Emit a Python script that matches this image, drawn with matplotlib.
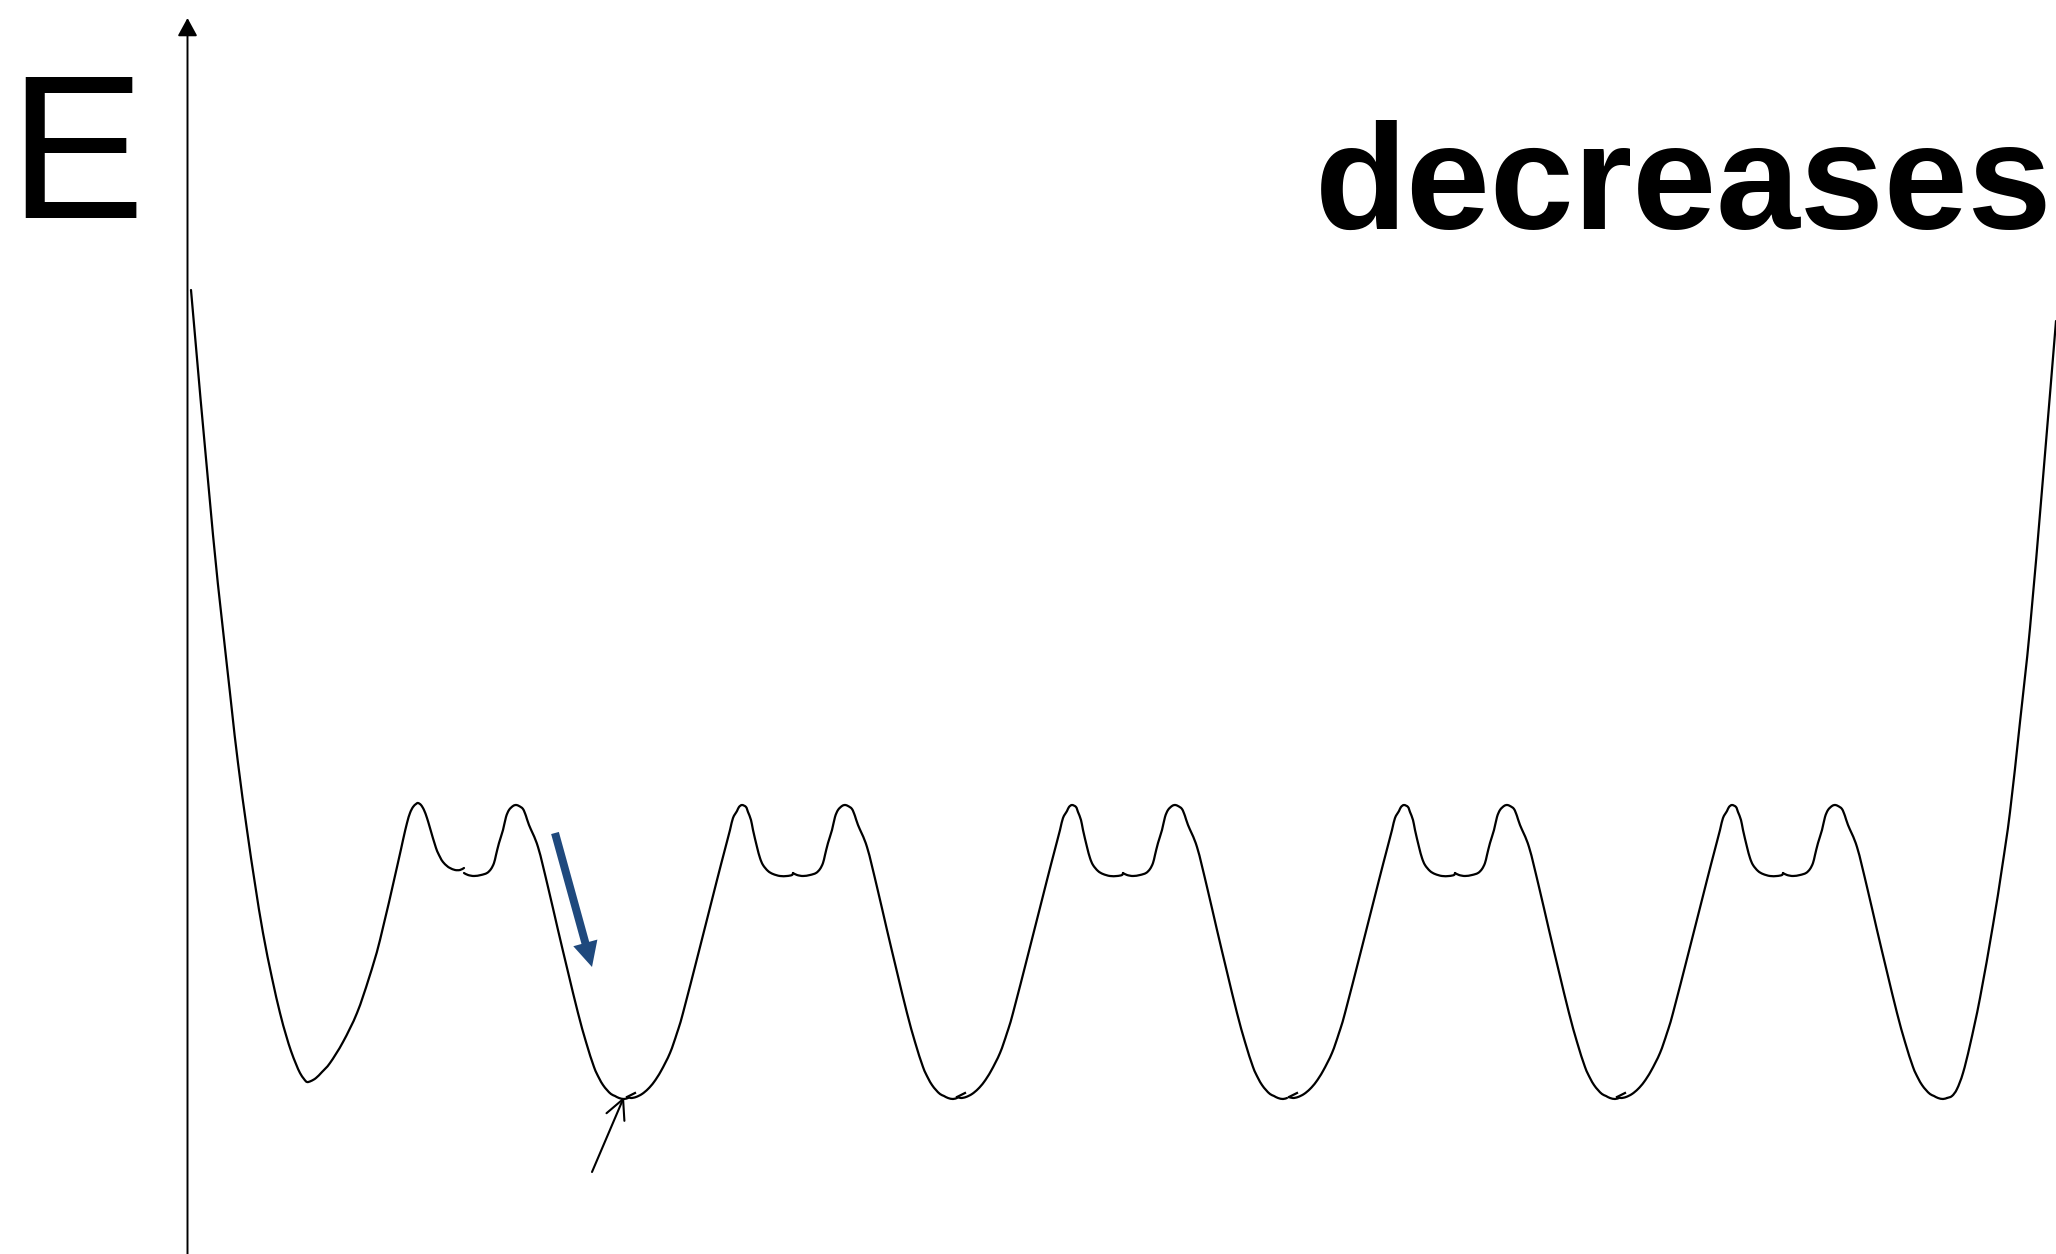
import matplotlib.pyplot as plt
from matplotlib.path import Path
from matplotlib.patches import PathPatch

# energy curve (x = position px, y = screen px, down = lower E)
left_wall_x = [191, 213, 230, 238, 247, 255, 263, 272, 280, 286, 291, 296, 300, 304, 307, 311, 316, 322, 330, 343, 357, 369, 380, 397, 403, 407, 410, 413, 416, 418, 421, 424, 427, 430, 436, 440, 443, 447, 450, 455, 460, 464]
left_wall_y = [290, 535, 693, 763, 830, 884, 933, 978, 1013, 1035, 1051, 1064, 1073, 1079, 1082, 1081, 1078, 1072, 1063, 1042, 1013, 978, 940, 867, 840, 823, 813, 807, 804, 803, 805, 810, 818, 828, 848, 857, 862, 866, 868, 870, 870, 868]

barrier_x = [464, 793, 1123, 1455, 1783]

# half of a barrier going up from a well bottom to the dip in the middle
rise_dx = [-166, -162, -157, -151, -145, -139, -132, -123, -116, -110, -93, -76, -69, -63, -60, -56, -54, -51, -47, -45, -42, -40, -36, -33, -30, -25, -20, -13, -6, -1, 0]
rise_y = [1097, 1098, 1097, 1094, 1089, 1082, 1071, 1053, 1033, 1013, 947, 880, 853, 830, 818, 811, 807, 805, 807, 812, 820, 830, 847, 858, 865, 871, 874, 876, 876, 875, 873]
# little tick where the pieces join at the well bottom
hook_dx = [-158, -166]
hook_y = [1093, 1097]
# other half, from the dip down to the next well
fall_dx = [0, 4, 10, 17, 23, 27, 30, 32, 35, 39, 42, 45, 49, 52, 55, 59, 62, 65, 74, 84, 94, 104, 114, 122, 130, 135, 139, 143, 147, 151, 155, 160, 164]
fall_y = [873, 875, 876, 875, 873, 869, 863, 855, 843, 830, 817, 810, 806, 805, 806, 809, 816, 825, 847, 887, 930, 972, 1013, 1042, 1067, 1078, 1085, 1090, 1094, 1096, 1098, 1099, 1098]

right_wall_x = [1947, 1952, 1957, 1963, 1970, 1980, 1993, 2002, 2010, 2020, 2030, 2043, 2056]
right_wall_y = [1098, 1096, 1089, 1073, 1045, 998, 925, 868, 812, 722, 628, 478, 321]


def smooth_line(ax, xs, ys, **kw):
    # draw through the points with catmull-rom style bezier segments
    pts = list(zip(xs, ys))
    n = len(pts)
    verts = [pts[0]]
    codes = [Path.MOVETO]
    for i in range(n - 1):
        p0 = pts[max(i - 1, 0)]
        p1 = pts[i]
        p2 = pts[i + 1]
        p3 = pts[min(i + 2, n - 1)]
        c1 = (p1[0] + (p2[0] - p0[0]) / 6, p1[1] + (p2[1] - p0[1]) / 6)
        c2 = (p2[0] - (p3[0] - p1[0]) / 6, p2[1] - (p3[1] - p1[1]) / 6)
        verts += [c1, c2, p2]
        codes += [Path.CURVE4] * 3
    ax.add_patch(PathPatch(Path(verts, codes), fill=False, **kw))


fig = plt.figure(figsize=(20.56, 12.54), dpi=100)
ax = fig.add_axes([0, 0, 1, 1])
ax.set_xlim(0, 2056)
ax.set_ylim(1254, 0)
ax.axis('off')

style = dict(edgecolor='k', lw=1.6, joinstyle='round', capstyle='round')
smooth_line(ax, left_wall_x, left_wall_y, **style)
for i, c in enumerate(barrier_x):
    if i > 0:
        smooth_line(ax, [c + d for d in rise_dx], rise_y, **style)
        ax.plot([c + d for d in hook_dx], hook_y, color='k', lw=1.6)
    smooth_line(ax, [c + d for d in fall_dx], fall_y, **style)
smooth_line(ax, right_wall_x, right_wall_y, **style)

# E axis
ax.annotate('', xy=(187.5, 18), xytext=(187.5, 1254),
            arrowprops=dict(arrowstyle='-|>,head_length=0.55,head_width=0.3',
                            mutation_scale=20, lw=1.4, color='k',
                            shrinkA=0, shrinkB=0))

# thin arrow pointing at the well bottom
ax.annotate('', xy=(624, 1097), xytext=(592, 1172),
            arrowprops=dict(arrowstyle='->,head_length=1.0,head_width=0.5',
                            mutation_scale=14, lw=1.5, color='k',
                            shrinkA=0, shrinkB=0))

# blue arrow down the slope
ax.arrow(555, 833, 37, 134, width=8, head_width=25, head_length=25,
         length_includes_head=True, color='#1F497D', lw=0)

ax.text(8, 218, 'E', fontsize=147, family='Liberation Sans',
        ha='left', va='baseline')
ax.text(2052, 229, 'decreases', fontsize=108.5, family='Liberation Sans',
        weight='bold', ha='right', va='baseline')

fig.savefig('out.png', dpi=100)
